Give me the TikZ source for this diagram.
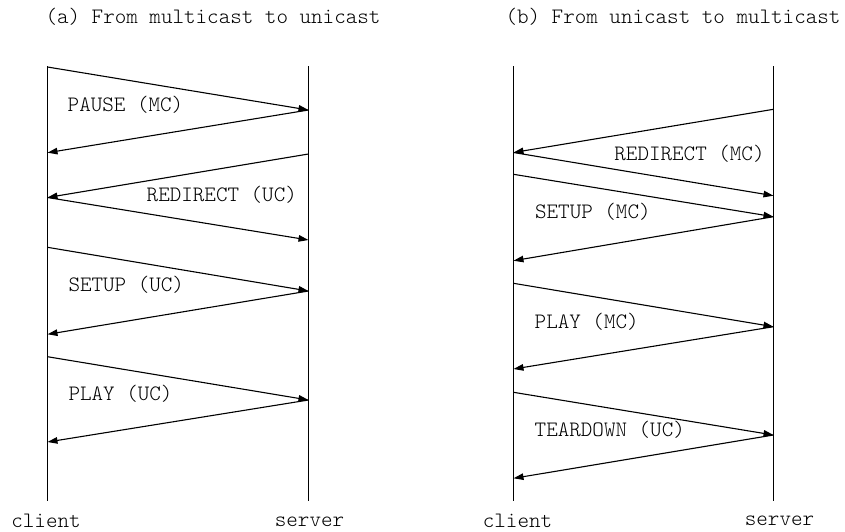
\documentclass[tikz,border=0pt]{standalone}
\usepackage{fontspec}
\setmonofont{lmmonolt10-regular.otf}
\usetikzlibrary{arrows.meta}
\begin{document}
\begin{tikzpicture}[x=1pt,y=-1pt,
  lifeline/.style={line width=1.1pt},
  msg/.style={line width=1.1pt,-{Triangle[length=10pt,width=6.5pt]}},
  msglabel/.style={anchor=base west,inner sep=0pt,font=\ttfamily\fontsize{22}{24}\selectfont},
  caption/.style={anchor=base,inner sep=0pt,font=\ttfamily\fontsize{22}{24}\selectfont}]
\useasboundingbox (0,0) rectangle (845,531);

% ---------- (a) multicast -> unicast ----------
\node[caption] (titleA) at (213,23) {(a) From multicast to unicast};
\coordinate (aCtop) at (47.5,66);  \coordinate (aCbot) at (47.5,501);
\coordinate (aStop) at (308.5,66); \coordinate (aSbot) at (308.5,501);
\draw[lifeline] (aCtop) -- (aCbot);
\draw[lifeline] (aStop) -- (aSbot);
\node[caption] (clientA) at (46,527) {client};
\node[caption] (serverA) at (309.5,526.5) {server};

\coordinate (aC1) at (47.5,67);    \coordinate (aS1) at (308.5,110);
\coordinate (aC2) at (47.5,152.7);
\coordinate (aS3) at (308.5,154);  \coordinate (aC3) at (47.5,197.5);
\coordinate (aS4) at (308.5,240);
\coordinate (aC5) at (47.5,247.3); \coordinate (aS5) at (308.5,291);
\coordinate (aC6) at (47.5,334.3);
\coordinate (aC7) at (47.5,356.7); \coordinate (aS7) at (308.5,400);
\coordinate (aC8) at (47.5,442);

\draw[msg] (aC1) -- (aS1);
\draw[msg] (aS1) -- (aC2);
\draw[msg] (aS3) -- (aC3);
\draw[msg] (aC3) -- (aS4);
\draw[msg] (aC5) -- (aS5);
\draw[msg] (aS5) -- (aC6);
\draw[msg] (aC7) -- (aS7);
\draw[msg] (aS7) -- (aC8);

\node[msglabel] (pauseMC) at (67.5,111) {PAUSE (MC)};
\node[msglabel] (redirUC) at (146.5,201.7) {REDIRECT (UC)};
\node[msglabel] (setupUC) at (68.3,291.7) {SETUP (UC)};
\node[msglabel] (playUC) at (68.3,400.7) {PLAY (UC)};

% ---------- (b) unicast -> multicast ----------
\node[caption] (titleB) at (673,23) {(b) From unicast to multicast};
\coordinate (bCtop) at (513.5,66); \coordinate (bCbot) at (513.5,501);
\coordinate (bStop) at (773.5,66); \coordinate (bSbot) at (773.5,501);
\draw[lifeline] (bCtop) -- (bCbot);
\draw[lifeline] (bStop) -- (bSbot);
\node[caption] (clientB) at (517.5,527) {client};
\node[caption] (serverB) at (779.5,525.5) {server};

\coordinate (bS1) at (773.5,109.3); \coordinate (bC1) at (513.5,152.5);
\coordinate (bS2) at (773.5,195.7);
\coordinate (bC3) at (513.5,174.3); \coordinate (bS3) at (773.5,216.7);
\coordinate (bC4) at (513.5,260.7);
\coordinate (bC5) at (513.5,283.3); \coordinate (bS5) at (773.5,326.7);
\coordinate (bC6) at (513.5,369);
\coordinate (bC7) at (513.5,392.3); \coordinate (bS7) at (773.5,435);
\coordinate (bC8) at (513.5,478.3);

\draw[msg] (bS1) -- (bC1);
\draw[msg] (bC1) -- (bS2);
\draw[msg] (bC3) -- (bS3);
\draw[msg] (bS3) -- (bC4);
\draw[msg] (bC5) -- (bS5);
\draw[msg] (bS5) -- (bC6);
\draw[msg] (bC7) -- (bS7);
\draw[msg] (bS7) -- (bC8);

\node[msglabel] (redirMC) at (614.2,160) {REDIRECT (MC)};
\node[msglabel] (setupMC) at (534.9,218.3) {SETUP (MC)};
\node[msglabel] (playMC) at (534.5,328.3) {PLAY (MC)};
\node[msglabel] (teardownUC) at (534.5,436.7) {TEARDOWN (UC)};
\end{tikzpicture}
\end{document}
